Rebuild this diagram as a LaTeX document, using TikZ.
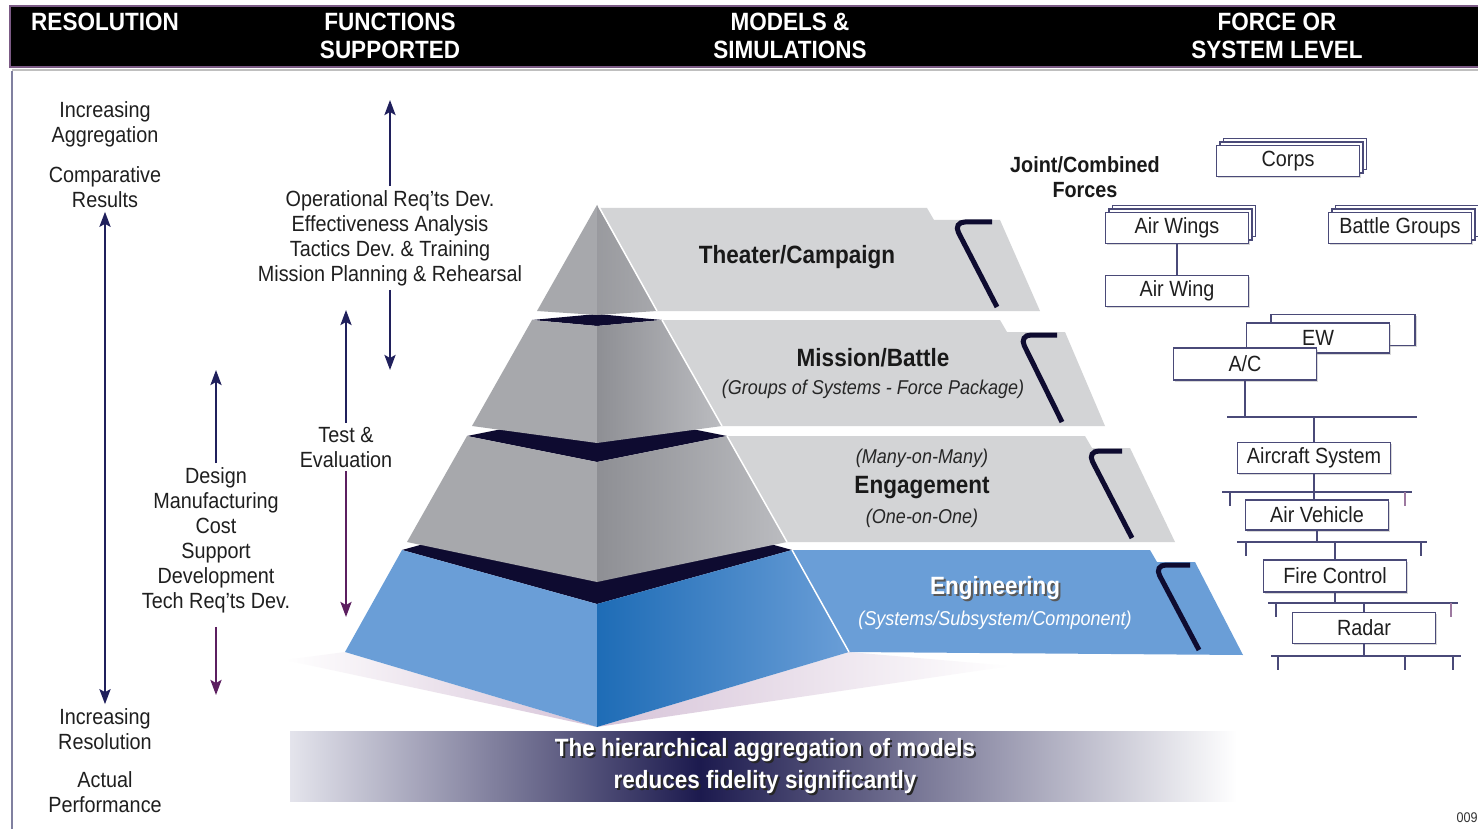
\documentclass[tikz,border=0pt]{standalone}
\usepackage{fontspec}
\setmainfont{Liberation Sans}[FakeStretch=0.9]
\usetikzlibrary{arrows.meta,shadows}
\frenchspacing

\definecolor{dunkelblau}{HTML}{20205C}
\definecolor{lila}{HTML}{5C1F60}
\definecolor{kopflinie}{HTML}{7B5A85}
\definecolor{schiefer}{HTML}{4A4A78}
\definecolor{hellgrau}{HTML}{D3D4D6}
\definecolor{mittelgrau}{HTML}{A7A8AC}
\definecolor{graudunkel}{HTML}{8E8F94}
\definecolor{grauhell}{HTML}{BBBCC0}
\definecolor{deckel}{HTML}{0E0B30}
\definecolor{hellblau}{HTML}{6A9ED7}
\definecolor{tiefblau}{HTML}{1E6CB6}
\definecolor{schatten}{HTML}{D6C3D8}
\definecolor{bannerhell}{HTML}{E4E4EC}
\definecolor{bannerdunkel}{HTML}{1C1A4E}

\begin{document}
\begin{tikzpicture}[x=1pt, y=-1pt,
  >={Stealth[length=15pt,width=11pt,inset=3pt]},
  hdr/.style={text=white, font=\bfseries\fontsize{25}{28}\selectfont, align=center, inner sep=0},
  lbl/.style={font=\fontsize{22}{25}\selectfont, align=center, text=black!88, inner sep=4pt},
  lvl/.style={font=\bfseries\fontsize{25}{28}\selectfont, text=black!90},
  sublvl/.style={font=\itshape\fontsize{20}{22}\selectfont, text=black!85},
  bannertxt/.style={font=\bfseries\fontsize{25}{32}\selectfont, align=center, text=white},
  flow/.style={draw=dunkelblau, line width=2.5pt},
  flowlila/.style={draw=lila, line width=2.5pt},
  klammer/.style={draw=deckel, line width=5pt, rounded corners=12pt},
  orgbox/.style={draw=schiefer, fill=white, line width=1.3pt, minimum width=143pt,
    minimum height=31pt, inner sep=0, font=\fontsize{22}{25}\selectfont, text=black!88,
    drop shadow={shadow xshift=1.5pt, shadow yshift=-1.5pt, opacity=0.3}},
  stapel/.style={orgbox,
    copy shadow={shadow xshift=7pt, shadow yshift=7pt, fill=white, draw=schiefer},
    copy shadow={shadow xshift=3.5pt, shadow yshift=3.5pt, fill=white, draw=schiefer}},
  orgline/.style={draw=schiefer, line width=1.5pt}]
  \useasboundingbox (0,0) rectangle (1478,829);
  \fill[white] (0,0) rectangle (1478,829);

  % Kopfzeile
  \fill[black] (10,6) rectangle (1478,67);
  \draw[kopflinie, line width=1.5pt] (1478,6) -- (10,6) -- (10,67) -- (1478,67);
  \draw[black!25, line width=2pt] (12,70) -- (1478,70);
  \draw[schiefer!70, line width=1.2pt] (12,71) -- (12,829);
  \node[hdr] (hres) at (105,22) {RESOLUTION};
  \node[hdr] (hfunc) at (390,36) {FUNCTIONS\\SUPPORTED};
  \node[hdr] (hmod) at (790,36) {MODELS \&\\SIMULATIONS};
  \node[hdr] (hforce) at (1277,36) {FORCE OR\\SYSTEM LEVEL};

  % Aufloesung (linke Spalte)
  \node[lbl] (incagg) at (105,124) {Increasing\\Aggregation};
  \node[lbl] (cmpres) at (105,187) {Comparative\\Results};
  \node[lbl] (incres) at (105,729) {Increasing\\Resolution};
  \node[lbl] (actperf) at (105,792) {Actual\\Performance};
  \draw[flow, <->] (cmpres.south) -- (incres.north);

  % Unterstuetzte Funktionen
  \node[lbl] (funcops) at (390,238) {Operational Req'ts Dev.\\Effectiveness Analysis\\Tactics Dev. \& Training\\Mission Planning \& Rehearsal};
  \coordinate (funcops-top) at (390,100);
  \coordinate (funcops-bot) at (390,370);
  \draw[flow, ->] (funcops.north) -- (funcops-top);
  \draw[flow, ->] (funcops.south) -- (funcops-bot);

  \node[lbl] (testeval) at (346,447) {Test \&\\Evaluation};
  \coordinate (testeval-top) at (346,310);
  \coordinate (testeval-bot) at (346,617);
  \draw[flow, ->] (testeval.north) -- (testeval-top);
  \draw[flowlila, ->] (testeval.south) -- (testeval-bot);

  \node[lbl] (design) at (216,540) {Design\\Manufacturing\\Cost\\Support\\Development\\Tech Req'ts Dev.};
  \coordinate (design-top) at (216,370);
  \coordinate (design-bot) at (216,695);
  \draw[flow, ->] (design.north) -- (design-top);
  \draw[flowlila, ->, shorten <=10pt] (design.south) -- (design-bot);

  % Schatten unter der Pyramide
  \shade[left color=white, right color=schatten] (285,660) -- (345,652) -- (597,727) -- cycle;
  \shade[left color=schatten, right color=white] (849,652) -- (1010,666) -- (597,727) -- cycle;

  % Baender rechts der Pyramide
  \fill[hellgrau] (599,208) -- (927,208) -- (934,220) -- (1000,220) -- (1040,311) -- (657,311) -- cycle;
  \draw[klammer] (992,222) -- (953,222) -- (997,307);
  \fill[hellgrau] (662,320) -- (1000,320) -- (1007,332) -- (1065,332) -- (1105,426) -- (722,426) -- cycle;
  \draw[klammer] (1057,335) -- (1019,335) -- (1062,422);
  \fill[hellgrau] (727,436) -- (1085,436) -- (1092,448) -- (1130,448) -- (1175,542) -- (787,542) -- cycle;
  \draw[klammer] (1122,451) -- (1087,451) -- (1132,538);
  \fill[hellblau] (792,550) -- (1150,550) -- (1157,562) -- (1195,562) -- (1243,655) -- (849,652) -- cycle;
  \draw[klammer] (1190,565) -- (1154,565) -- (1199,650);

  % Pyramide, von unten nach oben
  \fill[deckel] (402,550) -- (597,604) -- (792,550) -- (597,496) -- cycle;
  \fill[hellblau] (402,550) -- (597,604) -- (597,727) -- (345,652) -- cycle;
  \shade[left color=tiefblau, right color=hellblau] (597,604) -- (792,550) -- (849,652) -- (597,727) -- cycle;

  \fill[deckel] (467,436) -- (597,462) -- (727,436) -- (597,410) -- cycle;
  \fill[mittelgrau] (467,436) -- (597,462) -- (597,582) -- (407,542) -- cycle;
  \shade[left color=graudunkel, right color=grauhell] (597,462) -- (727,436) -- (787,542) -- (597,582) -- cycle;

  \fill[deckel] (532,320) -- (597,326) -- (662,320) -- (597,314) -- cycle;
  \fill[mittelgrau] (532,320) -- (597,326) -- (597,443) -- (472,426) -- cycle;
  \shade[left color=graudunkel, right color=grauhell] (597,326) -- (662,320) -- (722,426) -- (597,443) -- cycle;

  \fill[mittelgrau] (597,205) -- (597,315) -- (537,311) -- cycle;
  \shade[left color=graudunkel!90, right color=mittelgrau] (597,205) -- (657,311) -- (597,315) -- cycle;

  \draw[white, line width=1.5pt] (599,207) -- (657,311) (662,320) -- (722,426) (727,436) -- (787,542) (792,550) -- (849,652);

  % Beschriftung der Ebenen
  \node[lvl] (theater) at (797,257) {Theater/Campaign};
  \node[lvl] (mission) at (873,358) {Mission/Battle};
  \node[sublvl] (mission-sub) at (873,389) {(Groups of Systems - Force Package)};
  \node[sublvl] (engage-many) at (922,458) {(Many-on-Many)};
  \node[lvl] (engage) at (922,488) {Engagement};
  \node[sublvl] (engage-one) at (922,518) {(One-on-One)};
  \node[lvl, text=black!65] (engin-sh) at (997,590) {Engineering};
  \node[lvl, text=white] (engin) at (995,588) {Engineering};
  \node[sublvl, text=white] (engin-sub) at (995,620) {(Systems/Subsystem/Component)};

  % Fazit-Balken
  \shade[left color=bannerhell, right color=bannerdunkel] (290,731) rectangle (700,801);
  \shade[left color=bannerdunkel, right color=white] (700,731) rectangle (1237,801);
  \node[bannertxt, text=black!85] (fazit-sh) at (767,768) {The hierarchical aggregation of models\\reduces fidelity significantly};
  \node[bannertxt] (fazit) at (765,766) {The hierarchical aggregation of models\\reduces fidelity significantly};

  % Streitkraefte und Systemebenen
  \node[font=\bfseries\fontsize{22}{25}\selectfont, align=center, text=black!90] (joint) at (1085,177) {Joint/Combined\\Forces};
  \node[stapel] (corps) at (1288,161) {Corps};
  \node[stapel] (airwings) at (1177,228) {Air Wings};
  \node[stapel] (battlegrp) at (1400,228) {Battle Groups};
  \node[orgbox] (airwing) at (1177,291) {Air Wing};
  \draw[orgline] (airwings.south) -- (airwing.north);

  \node[orgbox, minimum width=144pt] (ewback) at (1343,330) {};
  \node[orgbox, minimum height=30pt] (ew) at (1318,338) {EW};
  \node[orgbox, minimum height=32pt] (ac) at (1245,364) {A/C};

  \coordinate (busA-w) at (1227,417); \coordinate (busA-e) at (1417,417);
  \coordinate (busB-w) at (1222,492); \coordinate (busB-e) at (1412,492);
  \coordinate (busC-w) at (1237,542); \coordinate (busC-e) at (1427,542);
  \coordinate (busD-w) at (1268,603); \coordinate (busD-e) at (1458,603);
  \coordinate (busE-w) at (1271,656); \coordinate (busE-e) at (1461,656);

  \node[orgbox, minimum width=153pt] (acsys) at (1314,458) {Aircraft System};
  \node[orgbox, minimum height=30pt] (airveh) at (1317,515) {Air Vehicle};
  \node[orgbox, minimum height=32pt] (firectl) at (1335,576) {Fire Control};
  \node[orgbox] (radar) at (1364,628) {Radar};

  \draw[orgline] (ac.south) -- (ac.south |- busA-w);
  \draw[orgline] (busA-w) -- (busA-e);
  \draw[orgline] (acsys.north |- busA-w) -- (acsys.north);
  \draw[orgline] (acsys.south) -- (acsys.south |- airveh.north);
  \draw[orgline] (busB-w) -- (busB-e);
  \draw[orgline] (airveh.south) -- (airveh.south |- busC-w);
  \draw[orgline] (busC-w) -- (busC-e);
  \draw[orgline] (firectl.north |- busC-w) -- (firectl.north);
  \draw[orgline] (firectl.south) -- (firectl.south |- busD-w);
  \draw[orgline] (busD-w) -- (busD-e);
  \draw[orgline] (radar.north |- busD-w) -- (radar.north);
  \draw[orgline] (radar.south) -- (radar.south |- busE-w);
  \draw[orgline] (busE-w) -- (busE-e);
  \foreach \tx/\ty in {1230/492, 1246/542, 1421/542, 1276/603, 1278/656, 1405/656, 1453/656}
    \draw[orgline] (\tx,\ty) -- ++(0,14);
  \foreach \tx/\ty in {1405/492, 1451/603}
    \draw[orgline, draw=lila!60] (\tx,\ty) -- ++(0,14);

  \node[anchor=west, font=\fontsize{14}{16}\selectfont, text=black!80] (blattnr) at (1453,818) {009};
\end{tikzpicture}
\end{document}
